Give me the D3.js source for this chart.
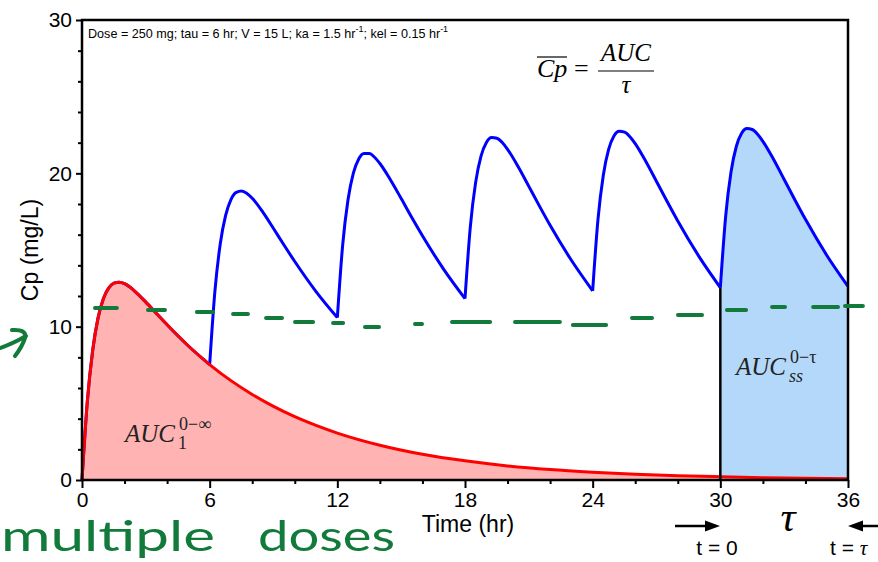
<!DOCTYPE html>
<html><head><meta charset="utf-8">
<script src="https://cdn.jsdelivr.net/npm/d3@7"></script>
<style>body{margin:0;background:#fff}svg{display:block}</style>
</head><body>
<svg id="chart" width="878" height="562"></svg>
<script>
// ---- data ----
const doseStarts = [0, 6, 12, 18, 24, 30];
const doseOffsets = [0, 0.25, 0.5, 0.75, 1, 1.25, 1.5, 1.75, 2, 2.5, 3, 3.5, 4, 5, 6];
const dose1Cp = [0, 5.11, 8.43, 10.54, 11.81, 12.51, 12.84, 12.90, 12.80, 12.29, 11.60, 10.86, 10.12, 8.74, 7.53];
const dose2Cp = [7.53, 12.36, 15.42, 17.26, 18.29, 18.76, 18.85, 18.69, 18.38, 17.47, 16.40, 15.31, 14.25, 12.29, 10.59];
const dose3Cp = [10.59, 15.31, 18.26, 20.00, 20.92, 21.29, 21.29, 21.05, 20.64, 19.57, 18.36, 17.12, 15.93, 13.74, 11.83];
const dose4Cp = [11.83, 16.51, 19.41, 21.11, 21.99, 22.33, 22.29, 22.01, 21.57, 20.43, 19.15, 17.86, 16.61, 14.33, 12.34];
const dose5Cp = [12.34, 17.00, 19.88, 21.56, 22.43, 22.74, 22.69, 22.39, 21.94, 20.77, 19.47, 18.16, 16.89, 14.57, 12.55];
const dose6Cp = [12.55, 17.20, 20.07, 21.75, 22.61, 22.92, 22.86, 22.55, 22.09, 20.92, 19.60, 18.28, 17.00, 14.66, 12.63];
const singleTime = [0, 0.25, 0.5, 0.75, 1, 1.25, 1.5, 1.75, 2, 2.5, 3, 3.5, 4, 5, 6, 7, 8, 9, 10, 11, 12, 14, 16, 18, 20, 22, 24, 26, 28, 30, 32, 34, 36];
const singleCp = [0, 5.11, 8.43, 10.54, 11.81, 12.51, 12.84, 12.90, 12.80, 12.29, 11.60, 10.86, 10.12, 8.74, 7.53, 6.48, 5.58, 4.80, 4.13, 3.56, 3.06, 2.27, 1.68, 1.25, 0.92, 0.68, 0.51, 0.38, 0.28, 0.21, 0.15, 0.11, 0.08];
const xMajorTicks = [0, 6, 12, 18, 24, 30, 36];
const xMinorTicks = [2, 4, 8, 10, 14, 16, 20, 22, 26, 28, 32, 34];
const yMajorTicks = [0, 10, 20, 30];
const yMinorTicks = [2, 4, 6, 8, 12, 14, 16, 18, 22, 24, 26, 28];
// hand-drawn green dashed note (start time, end time, Cp)
const noteDashStart = [0.61, 3.10, 5.40, 7.10, 8.65, 10.01, 11.80, 13.30, 15.65, 17.39, 20.35, 23.07, 25.85, 28.01, 30.31, 32.43, 34.36, 35.86];
const noteDashEnd   = [1.64, 3.90, 6.16, 7.80, 9.40, 10.86, 12.27, 13.96, 15.98, 19.18, 22.46, 24.63, 26.79, 29.14, 31.21, 33.04, 35.53, 36.70];
const noteDashCp    = [11.22, 11.09, 10.96, 10.83, 10.57, 10.30, 10.24, 9.98, 10.17, 10.30, 10.30, 10.11, 10.57, 10.76, 11.09, 11.28, 11.28, 11.35];

const doseCps = [dose1Cp, dose2Cp, dose3Cp, dose4Cp, dose5Cp, dose6Cp];

// ---- drawing ----
const svg = d3.select("#chart");
const L = 82, R = 848, T = 20, B = 480;
const x = d3.scaleLinear().domain([0, 36]).range([L, R]);
const y = d3.scaleLinear().domain([0, 30]).range([B, T]);
const sans = "'Liberation Sans', Arial, Helvetica, sans-serif";
const serif = "'Liberation Serif', 'Times New Roman', serif";
const green = "#127a3b";

const single = singleTime.map((t, i) => ({t, c: singleCp[i]}));
const doses = doseCps.map((arr, k) => arr.map((c, i) => ({t: doseStarts[k] + doseOffsets[i], c})));

const area = d3.area().x(d => x(d.t)).y0(y(0)).y1(d => y(d.c)).curve(d3.curveMonotoneX);
const line = d3.line().x(d => x(d.t)).y(d => y(d.c)).curve(d3.curveMonotoneX);

// steady-state AUC fill
svg.append("path").attr("d", area(doses[5])).attr("fill", "#b3d8fa");
// single-dose AUC fill
svg.append("path").attr("d", area(single)).attr("fill", "#ffb3b3");

// multiple-dose curve
doses.forEach(d => {
  svg.append("path").attr("d", line(d)).attr("fill", "none")
    .attr("stroke", "#0000ff").attr("stroke-width", 3).attr("stroke-linejoin", "round");
});
// single-dose curve
svg.append("path").attr("d", line(single)).attr("fill", "none")
  .attr("stroke", "#ff0000").attr("stroke-width", 3).attr("stroke-linejoin", "round");

// vertical boundary at start of interval
svg.append("line").attr("x1", x(doseStarts[5])).attr("x2", x(doseStarts[5]))
  .attr("y1", y(0)).attr("y2", y(dose6Cp[0])).attr("stroke", "#000").attr("stroke-width", 2.5);

// axes
function styleAxis(g) {
  g.select(".domain").remove();
  g.selectAll(".tick line").attr("stroke", "#000").attr("stroke-width", 2);
  g.selectAll(".tick text").attr("font-family", sans).attr("font-size", 21).attr("fill", "#000");
}
svg.append("g").attr("transform", `translate(0,${B})`)
  .call(d3.axisBottom(x).tickValues(xMajorTicks).tickSize(8).tickPadding(4).tickFormat(d3.format("d")))
  .call(styleAxis);
svg.append("g").attr("transform", `translate(0,${B})`)
  .call(d3.axisBottom(x).tickValues(xMinorTicks).tickSize(4).tickFormat(""))
  .call(styleAxis);
svg.append("g").attr("transform", `translate(${L},0)`)
  .call(d3.axisLeft(y).tickValues(yMajorTicks).tickSize(6).tickPadding(4).tickFormat(d3.format("d")))
  .call(styleAxis);
svg.append("g").attr("transform", `translate(${L},0)`)
  .call(d3.axisLeft(y).tickValues(yMinorTicks).tickSize(4).tickFormat(""))
  .call(styleAxis);

// frame
svg.append("rect").attr("x", L).attr("y", T).attr("width", R - L).attr("height", B - T)
  .attr("fill", "none").attr("stroke", "#000").attr("stroke-width", 2.5);

// axis titles
svg.append("text").attr("x", 468).attr("y", 532).attr("text-anchor", "middle")
  .attr("font-family", sans).attr("font-size", 23).text("Time (hr)");
svg.append("text").attr("transform", "translate(38,250) rotate(-90)").attr("text-anchor", "middle")
  .attr("font-family", sans).attr("font-size", 23).text("Cp (mg/L)");

// parameter line
const pt = svg.append("text").attr("x", 88).attr("y", 38).attr("font-family", sans).attr("font-size", 12.6);
pt.append("tspan").text("Dose = 250 mg; tau = 6 hr; V = 15 L; ka = 1.5 hr");
pt.append("tspan").attr("dy", -6).attr("font-size", 9).text("-1");
pt.append("tspan").attr("dy", 6).text("; kel = 0.15 hr");
pt.append("tspan").attr("dy", -6).attr("font-size", 9).text("-1");

// formula Cp̄ = AUC / τ
svg.append("text").attr("x", 537).attr("y", 77).attr("font-family", serif).attr("font-style", "italic")
  .attr("font-size", 26).text("Cp");
svg.append("line").attr("x1", 537).attr("x2", 567).attr("y1", 57).attr("y2", 57).attr("stroke", "#000").attr("stroke-width", 1.2);
svg.append("text").attr("x", 574).attr("y", 77).attr("font-family", serif).attr("font-size", 26).text("=");
svg.append("text").attr("x", 626).attr("y", 61).attr("text-anchor", "middle").attr("font-family", serif)
  .attr("font-style", "italic").attr("font-size", 25).text("AUC");
svg.append("line").attr("x1", 598).attr("x2", 654).attr("y1", 71).attr("y2", 71).attr("stroke", "#000").attr("stroke-width", 1.2);
svg.append("text").attr("x", 626).attr("y", 93).attr("text-anchor", "middle").attr("font-family", serif)
  .attr("font-style", "italic").attr("font-size", 25).text("τ");

// AUC labels
function aucLabel(x0, base, sub, sup) {
  svg.append("text").attr("x", x0).attr("y", base).attr("font-family", serif).attr("font-style", "italic")
    .attr("font-size", 25).attr("fill", "#222").text("AUC");
  svg.append("text").attr("x", x0 + 53).attr("y", base + 7).attr("font-family", serif)
    .attr("font-style", sub === "1" ? "normal" : "italic").attr("font-size", 18).attr("fill", "#222").text(sub);
  svg.append("text").attr("x", x0 + 54).attr("y", base - 12).attr("font-family", serif)
    .attr("font-size", 18).attr("fill", "#222").text(sup);
}
aucLabel(125, 442, "1", "0−∞");
aucLabel(736, 375, "ss", "0−τ");

// bottom annotations
function arrow(x1, x2, yy) {
  const dir = Math.sign(x2 - x1);
  svg.append("line").attr("x1", x1).attr("x2", x2 - dir * 12).attr("y1", yy).attr("y2", yy)
    .attr("stroke", "#000").attr("stroke-width", 2.5);
  svg.append("path").attr("d", `M${x2},${yy} L${x2 - dir * 15},${yy - 5.5} L${x2 - dir * 15},${yy + 5.5} Z`).attr("fill", "#000");
}
arrow(675, 720, 526);
arrow(884, 848, 526);
svg.append("text").attr("x", 717).attr("y", 555).attr("text-anchor", "middle").attr("font-family", sans)
  .attr("font-size", 21).text("t = 0");
svg.append("text").attr("x", 830).attr("y", 555).attr("font-family", sans).attr("font-size", 21)
  .text("t = ").append("tspan").attr("font-family", serif).attr("font-style", "italic").text("τ");
svg.append("text").attr("x", 788).attr("y", 531).attr("text-anchor", "middle").attr("font-family", serif)
  .attr("font-style", "italic").attr("font-size", 42).text("τ");

// green hand-drawn notes
noteDashStart.forEach((t0, i) => {
  svg.append("line").attr("x1", x(t0)).attr("x2", x(noteDashEnd[i]))
    .attr("y1", y(noteDashCp[i])).attr("y2", y(noteDashCp[i]))
    .attr("stroke", green).attr("stroke-width", 4).attr("stroke-linecap", "round");
});
svg.append("path").attr("d", "M0,348 Q12,344 26,336 M12,330 Q27,329 25,338 Q22,347 15,356")
  .attr("fill", "none").attr("stroke", green).attr("stroke-width", 4).attr("stroke-linecap", "round");
svg.append("text").attr("x", 1).attr("y", 551).attr("font-family", "Lato, sans-serif").attr("font-weight", 400)
  .attr("font-size", 43).attr("fill", green).attr("textLength", 214).attr("lengthAdjust", "spacingAndGlyphs").text("multiple");
svg.append("text").attr("x", 258).attr("y", 551).attr("font-family", "Lato, sans-serif").attr("font-weight", 400)
  .attr("font-size", 43).attr("fill", green).attr("textLength", 137).attr("lengthAdjust", "spacingAndGlyphs").text("doses");
</script>
</body></html>
